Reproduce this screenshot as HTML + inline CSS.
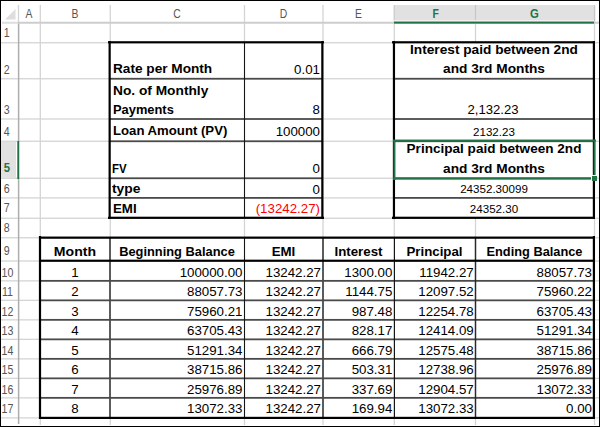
<!DOCTYPE html><html><head><meta charset="utf-8"><title>Loan EMI sheet</title><style>
html,body{margin:0;padding:0;width:600px;height:427px;overflow:hidden;background:#fff;}
div{position:absolute;}
.t{font-family:"Liberation Sans",sans-serif;white-space:nowrap;line-height:20px;height:20px;}
.b{font-weight:bold;}
</style></head><body>
<div style="left:39px;top:23px;width:1px;height:402px;background:#d4d4d4;opacity:0.35"></div>
<div style="left:40px;top:23px;width:1px;height:402px;background:#d4d4d4;opacity:0.95"></div>
<div style="left:109px;top:23px;width:1px;height:402px;background:#d4d4d4;opacity:0.40"></div>
<div style="left:110px;top:23px;width:1px;height:402px;background:#d4d4d4;opacity:0.90"></div>
<div style="left:243px;top:23px;width:1px;height:402px;background:#d4d4d4;opacity:0.15"></div>
<div style="left:244px;top:23px;width:1px;height:402px;background:#d4d4d4"></div>
<div style="left:245px;top:23px;width:1px;height:402px;background:#d4d4d4;opacity:0.15"></div>
<div style="left:322px;top:23px;width:1px;height:402px;background:#d4d4d4;opacity:0.65"></div>
<div style="left:323px;top:23px;width:1px;height:402px;background:#d4d4d4;opacity:0.65"></div>
<div style="left:393px;top:23px;width:1px;height:402px;background:#d4d4d4;opacity:0.35"></div>
<div style="left:394px;top:23px;width:1px;height:402px;background:#d4d4d4;opacity:0.95"></div>
<div style="left:474px;top:23px;width:1px;height:402px;background:#d4d4d4;opacity:0.15"></div>
<div style="left:475px;top:23px;width:1px;height:402px;background:#d4d4d4"></div>
<div style="left:476px;top:23px;width:1px;height:402px;background:#d4d4d4;opacity:0.15"></div>
<div style="left:593px;top:23px;width:1px;height:402px;background:#d4d4d4;opacity:0.15"></div>
<div style="left:594px;top:23px;width:1px;height:402px;background:#d4d4d4"></div>
<div style="left:595px;top:23px;width:1px;height:402px;background:#d4d4d4;opacity:0.15"></div>
<div style="left:1px;top:42px;width:598px;height:1px;background:#d4d4d4;opacity:0.90"></div>
<div style="left:1px;top:43px;width:598px;height:1px;background:#d4d4d4;opacity:0.40"></div>
<div style="left:1px;top:78px;width:598px;height:1px;background:#d4d4d4;opacity:0.90"></div>
<div style="left:1px;top:79px;width:598px;height:1px;background:#d4d4d4;opacity:0.40"></div>
<div style="left:1px;top:118px;width:598px;height:1px;background:#d4d4d4;opacity:0.65"></div>
<div style="left:1px;top:119px;width:598px;height:1px;background:#d4d4d4;opacity:0.65"></div>
<div style="left:1px;top:140px;width:598px;height:1px;background:#d4d4d4;opacity:0.40"></div>
<div style="left:1px;top:141px;width:598px;height:1px;background:#d4d4d4;opacity:0.90"></div>
<div style="left:1px;top:177px;width:598px;height:1px;background:#d4d4d4;opacity:0.40"></div>
<div style="left:1px;top:178px;width:598px;height:1px;background:#d4d4d4;opacity:0.90"></div>
<div style="left:1px;top:197px;width:598px;height:1px;background:#d4d4d4;opacity:0.75"></div>
<div style="left:1px;top:198px;width:598px;height:1px;background:#d4d4d4;opacity:0.55"></div>
<div style="left:1px;top:217px;width:598px;height:1px;background:#d4d4d4;opacity:0.40"></div>
<div style="left:1px;top:218px;width:598px;height:1px;background:#d4d4d4;opacity:0.90"></div>
<div style="left:1px;top:237px;width:598px;height:1px;background:#d4d4d4;opacity:0.90"></div>
<div style="left:1px;top:238px;width:598px;height:1px;background:#d4d4d4;opacity:0.40"></div>
<div style="left:1px;top:260px;width:598px;height:1px;background:#d4d4d4;opacity:0.65"></div>
<div style="left:1px;top:261px;width:598px;height:1px;background:#d4d4d4;opacity:0.65"></div>
<div style="left:1px;top:280px;width:598px;height:1px;background:#d4d4d4;opacity:0.80"></div>
<div style="left:1px;top:281px;width:598px;height:1px;background:#d4d4d4;opacity:0.50"></div>
<div style="left:1px;top:299px;width:598px;height:1px;background:#d4d4d4;opacity:0.30"></div>
<div style="left:1px;top:300px;width:598px;height:1px;background:#d4d4d4"></div>
<div style="left:1px;top:319px;width:598px;height:1px;background:#d4d4d4;opacity:0.80"></div>
<div style="left:1px;top:320px;width:598px;height:1px;background:#d4d4d4;opacity:0.50"></div>
<div style="left:1px;top:338px;width:598px;height:1px;background:#d4d4d4;opacity:0.30"></div>
<div style="left:1px;top:339px;width:598px;height:1px;background:#d4d4d4"></div>
<div style="left:1px;top:358px;width:598px;height:1px;background:#d4d4d4;opacity:0.80"></div>
<div style="left:1px;top:359px;width:598px;height:1px;background:#d4d4d4;opacity:0.50"></div>
<div style="left:1px;top:377px;width:598px;height:1px;background:#d4d4d4;opacity:0.30"></div>
<div style="left:1px;top:378px;width:598px;height:1px;background:#d4d4d4"></div>
<div style="left:1px;top:397px;width:598px;height:1px;background:#d4d4d4;opacity:0.80"></div>
<div style="left:1px;top:398px;width:598px;height:1px;background:#d4d4d4;opacity:0.50"></div>
<div style="left:1px;top:417px;width:598px;height:1px;background:#d4d4d4;opacity:0.75"></div>
<div style="left:1px;top:418px;width:598px;height:1px;background:#d4d4d4;opacity:0.55"></div>
<div style="left:17px;top:23px;width:1px;height:401px;background:#adadad;opacity:0.15"></div>
<div style="left:18px;top:23px;width:1px;height:401px;background:#adadad"></div>
<div style="left:19px;top:23px;width:1px;height:401px;background:#adadad;opacity:0.35"></div>
<div style="left:39px;top:5px;width:1px;height:17px;background:#d4d4d4;opacity:0.35"></div>
<div style="left:40px;top:5px;width:1px;height:17px;background:#d4d4d4;opacity:0.95"></div>
<div style="left:109px;top:5px;width:1px;height:17px;background:#d4d4d4;opacity:0.40"></div>
<div style="left:110px;top:5px;width:1px;height:17px;background:#d4d4d4;opacity:0.90"></div>
<div style="left:243px;top:5px;width:1px;height:17px;background:#d4d4d4;opacity:0.15"></div>
<div style="left:244px;top:5px;width:1px;height:17px;background:#d4d4d4"></div>
<div style="left:245px;top:5px;width:1px;height:17px;background:#d4d4d4;opacity:0.15"></div>
<div style="left:322px;top:5px;width:1px;height:17px;background:#d4d4d4;opacity:0.65"></div>
<div style="left:323px;top:5px;width:1px;height:17px;background:#d4d4d4;opacity:0.65"></div>
<div style="left:393px;top:5px;width:1px;height:17px;background:#d4d4d4;opacity:0.35"></div>
<div style="left:394px;top:5px;width:1px;height:17px;background:#d4d4d4;opacity:0.95"></div>
<div style="left:474px;top:5px;width:1px;height:17px;background:#d4d4d4;opacity:0.15"></div>
<div style="left:475px;top:5px;width:1px;height:17px;background:#d4d4d4"></div>
<div style="left:476px;top:5px;width:1px;height:17px;background:#d4d4d4;opacity:0.15"></div>
<div style="left:593px;top:5px;width:1px;height:17px;background:#d4d4d4;opacity:0.15"></div>
<div style="left:594px;top:5px;width:1px;height:17px;background:#d4d4d4"></div>
<div style="left:595px;top:5px;width:1px;height:17px;background:#d4d4d4;opacity:0.15"></div>
<div style="left:17px;top:5px;width:1px;height:17px;background:#d4d4d4;opacity:0.15"></div>
<div style="left:18px;top:5px;width:1px;height:17px;background:#d4d4d4"></div>
<div style="left:19px;top:5px;width:1px;height:17px;background:#d4d4d4;opacity:0.15"></div>
<div style="left:394px;top:5px;width:200px;height:16px;background:#e1e1e1"></div>
<div style="left:393px;top:5px;width:1px;height:16px;background:#cfcfcf;opacity:0.20"></div>
<div style="left:394px;top:5px;width:1px;height:16px;background:#cfcfcf"></div>
<div style="left:474px;top:5px;width:1px;height:16px;background:#c6c6c6;opacity:0.10"></div>
<div style="left:475px;top:5px;width:1px;height:16px;background:#c6c6c6"></div>
<div style="left:476px;top:5px;width:1px;height:16px;background:#c6c6c6;opacity:0.10"></div>
<div style="left:593px;top:5px;width:1px;height:16px;background:#c6c6c6;opacity:0.10"></div>
<div style="left:594px;top:5px;width:1px;height:16px;background:#c6c6c6"></div>
<div style="left:595px;top:5px;width:1px;height:16px;background:#c6c6c6;opacity:0.10"></div>
<div style="left:394px;top:20px;width:200px;height:1px;background:#f4eef2"></div>
<div style="left:18px;top:21px;width:581px;height:1px;background:#cdcdcd;opacity:0.25"></div>
<div style="left:18px;top:22px;width:581px;height:1px;background:#cdcdcd"></div>
<div style="left:18px;top:23px;width:581px;height:1px;background:#cdcdcd;opacity:0.75"></div>
<div style="left:2px;top:21px;width:16px;height:1px;background:#dedede;opacity:0.25"></div>
<div style="left:2px;top:22px;width:16px;height:1px;background:#dedede"></div>
<div style="left:2px;top:23px;width:16px;height:1px;background:#dedede;opacity:0.75"></div>
<div style="left:394px;top:21px;width:200px;height:3px;background:#fff"></div>
<div style="left:394px;top:21px;width:200px;height:1px;background:#217346;opacity:0.50"></div>
<div style="left:394px;top:22px;width:200px;height:1px;background:#217346"></div>
<div style="left:394px;top:23px;width:200px;height:1px;background:#217346;opacity:0.70"></div>
<div style="left:1px;top:142px;width:15px;height:36px;background:#e1e1e1"></div>
<div style="left:17px;top:141px;width:1px;height:38px;background:#217346;opacity:0.70"></div>
<div style="left:18px;top:141px;width:1px;height:38px;background:#217346"></div>
<div style="left:19px;top:141px;width:1px;height:38px;background:#217346;opacity:0.10"></div>
<div style="left:110px;top:43px;width:212px;height:174px;background:#fff"></div>
<div style="left:395px;top:43px;width:198px;height:174px;background:#fff"></div>
<div style="left:41px;top:239px;width:552px;height:178px;background:#fff"></div>
<div style="left:110px;top:77px;width:212px;height:1px;background:#4a4a4a;opacity:0.15"></div>
<div style="left:110px;top:78px;width:212px;height:1px;background:#4a4a4a"></div>
<div style="left:110px;top:79px;width:212px;height:1px;background:#4a4a4a;opacity:0.65"></div>
<div style="left:110px;top:118px;width:212px;height:1px;background:#4a4a4a;opacity:0.90"></div>
<div style="left:110px;top:119px;width:212px;height:1px;background:#4a4a4a;opacity:0.90"></div>
<div style="left:110px;top:140px;width:212px;height:1px;background:#4a4a4a;opacity:0.65"></div>
<div style="left:110px;top:141px;width:212px;height:1px;background:#4a4a4a"></div>
<div style="left:110px;top:142px;width:212px;height:1px;background:#4a4a4a;opacity:0.15"></div>
<div style="left:110px;top:177px;width:212px;height:1px;background:#4a4a4a;opacity:0.65"></div>
<div style="left:110px;top:178px;width:212px;height:1px;background:#4a4a4a"></div>
<div style="left:110px;top:179px;width:212px;height:1px;background:#4a4a4a;opacity:0.15"></div>
<div style="left:110px;top:197px;width:212px;height:1px;background:#4a4a4a"></div>
<div style="left:110px;top:198px;width:212px;height:1px;background:#4a4a4a;opacity:0.80"></div>
<div style="left:243px;top:43px;width:1px;height:174px;background:#151515;opacity:0.05"></div>
<div style="left:244px;top:43px;width:1px;height:174px;background:#151515"></div>
<div style="left:245px;top:43px;width:1px;height:174px;background:#151515;opacity:0.05"></div>
<div style="left:394px;top:77px;width:199px;height:1px;background:#4a4a4a;opacity:0.15"></div>
<div style="left:394px;top:78px;width:199px;height:1px;background:#4a4a4a"></div>
<div style="left:394px;top:79px;width:199px;height:1px;background:#4a4a4a;opacity:0.65"></div>
<div style="left:394px;top:118px;width:199px;height:1px;background:#4a4a4a;opacity:0.90"></div>
<div style="left:394px;top:119px;width:199px;height:1px;background:#4a4a4a;opacity:0.90"></div>
<div style="left:394px;top:140px;width:199px;height:1px;background:#4a4a4a;opacity:0.65"></div>
<div style="left:394px;top:141px;width:199px;height:1px;background:#4a4a4a"></div>
<div style="left:394px;top:142px;width:199px;height:1px;background:#4a4a4a;opacity:0.15"></div>
<div style="left:394px;top:177px;width:199px;height:1px;background:#4a4a4a;opacity:0.65"></div>
<div style="left:394px;top:178px;width:199px;height:1px;background:#4a4a4a"></div>
<div style="left:394px;top:179px;width:199px;height:1px;background:#4a4a4a;opacity:0.15"></div>
<div style="left:394px;top:197px;width:199px;height:1px;background:#4a4a4a"></div>
<div style="left:394px;top:198px;width:199px;height:1px;background:#4a4a4a;opacity:0.80"></div>
<div style="left:40px;top:279px;width:553px;height:1px;background:#4a4a4a;opacity:0.05"></div>
<div style="left:40px;top:280px;width:553px;height:1px;background:#4a4a4a"></div>
<div style="left:40px;top:281px;width:553px;height:1px;background:#4a4a4a;opacity:0.75"></div>
<div style="left:40px;top:299px;width:553px;height:1px;background:#4a4a4a;opacity:0.55"></div>
<div style="left:40px;top:300px;width:553px;height:1px;background:#4a4a4a"></div>
<div style="left:40px;top:301px;width:553px;height:1px;background:#4a4a4a;opacity:0.25"></div>
<div style="left:40px;top:318px;width:553px;height:1px;background:#4a4a4a;opacity:0.05"></div>
<div style="left:40px;top:319px;width:553px;height:1px;background:#4a4a4a"></div>
<div style="left:40px;top:320px;width:553px;height:1px;background:#4a4a4a;opacity:0.75"></div>
<div style="left:40px;top:338px;width:553px;height:1px;background:#4a4a4a;opacity:0.55"></div>
<div style="left:40px;top:339px;width:553px;height:1px;background:#4a4a4a"></div>
<div style="left:40px;top:340px;width:553px;height:1px;background:#4a4a4a;opacity:0.25"></div>
<div style="left:40px;top:357px;width:553px;height:1px;background:#4a4a4a;opacity:0.05"></div>
<div style="left:40px;top:358px;width:553px;height:1px;background:#4a4a4a"></div>
<div style="left:40px;top:359px;width:553px;height:1px;background:#4a4a4a;opacity:0.75"></div>
<div style="left:40px;top:377px;width:553px;height:1px;background:#4a4a4a;opacity:0.55"></div>
<div style="left:40px;top:378px;width:553px;height:1px;background:#4a4a4a"></div>
<div style="left:40px;top:379px;width:553px;height:1px;background:#4a4a4a;opacity:0.25"></div>
<div style="left:40px;top:396px;width:553px;height:1px;background:#4a4a4a;opacity:0.05"></div>
<div style="left:40px;top:397px;width:553px;height:1px;background:#4a4a4a"></div>
<div style="left:40px;top:398px;width:553px;height:1px;background:#4a4a4a;opacity:0.75"></div>
<div style="left:109px;top:238px;width:1px;height:180px;background:#4a4a4a;opacity:0.90"></div>
<div style="left:110px;top:238px;width:1px;height:180px;background:#4a4a4a;opacity:0.90"></div>
<div style="left:243px;top:238px;width:1px;height:180px;background:#151515;opacity:0.05"></div>
<div style="left:244px;top:238px;width:1px;height:180px;background:#151515"></div>
<div style="left:245px;top:238px;width:1px;height:180px;background:#151515;opacity:0.05"></div>
<div style="left:322px;top:238px;width:1px;height:180px;background:#4a4a4a;opacity:0.90"></div>
<div style="left:323px;top:238px;width:1px;height:180px;background:#4a4a4a;opacity:0.90"></div>
<div style="left:393px;top:238px;width:1px;height:180px;background:#151515;opacity:0.20"></div>
<div style="left:394px;top:238px;width:1px;height:180px;background:#151515"></div>
<div style="left:474px;top:238px;width:1px;height:180px;background:#2a2a2a;opacity:0.25"></div>
<div style="left:475px;top:238px;width:1px;height:180px;background:#2a2a2a"></div>
<div style="left:476px;top:238px;width:1px;height:180px;background:#2a2a2a;opacity:0.25"></div>
<div style="left:108px;top:41px;width:216px;height:1px;background:#000;opacity:0.80"></div>
<div style="left:108px;top:42px;width:216px;height:1px;background:#000"></div>
<div style="left:108px;top:43px;width:216px;height:1px;background:#000;opacity:0.40"></div>
<div style="left:108px;top:216px;width:216px;height:1px;background:#000;opacity:0.30"></div>
<div style="left:108px;top:217px;width:216px;height:1px;background:#000"></div>
<div style="left:108px;top:218px;width:216px;height:1px;background:#000;opacity:0.90"></div>
<div style="left:108px;top:41px;width:1px;height:178px;background:#000;opacity:0.45"></div>
<div style="left:109px;top:41px;width:1px;height:178px;background:#000"></div>
<div style="left:110px;top:41px;width:1px;height:178px;background:#000;opacity:0.75"></div>
<div style="left:321px;top:41px;width:1px;height:178px;background:#000;opacity:0.75"></div>
<div style="left:322px;top:41px;width:1px;height:178px;background:#000"></div>
<div style="left:323px;top:41px;width:1px;height:178px;background:#000;opacity:0.45"></div>
<div style="left:392px;top:41px;width:203px;height:1px;background:#000;opacity:0.80"></div>
<div style="left:392px;top:42px;width:203px;height:1px;background:#000"></div>
<div style="left:392px;top:43px;width:203px;height:1px;background:#000;opacity:0.40"></div>
<div style="left:392px;top:216px;width:203px;height:1px;background:#000;opacity:0.30"></div>
<div style="left:392px;top:217px;width:203px;height:1px;background:#000"></div>
<div style="left:392px;top:218px;width:203px;height:1px;background:#000;opacity:0.90"></div>
<div style="left:392px;top:41px;width:1px;height:178px;background:#000;opacity:0.15"></div>
<div style="left:393px;top:41px;width:1px;height:178px;background:#000"></div>
<div style="left:394px;top:41px;width:1px;height:178px;background:#000"></div>
<div style="left:395px;top:41px;width:1px;height:178px;background:#000;opacity:0.05"></div>
<div style="left:592px;top:41px;width:1px;height:178px;background:#000;opacity:0.20"></div>
<div style="left:593px;top:41px;width:1px;height:178px;background:#000"></div>
<div style="left:594px;top:41px;width:1px;height:178px;background:#000"></div>
<div style="left:39px;top:236px;width:556px;height:1px;background:#000;opacity:0.45"></div>
<div style="left:39px;top:237px;width:556px;height:1px;background:#000"></div>
<div style="left:39px;top:238px;width:556px;height:1px;background:#000;opacity:0.75"></div>
<div style="left:39px;top:416px;width:556px;height:1px;background:#000;opacity:0.20"></div>
<div style="left:39px;top:417px;width:556px;height:1px;background:#000"></div>
<div style="left:39px;top:418px;width:556px;height:1px;background:#000"></div>
<div style="left:38px;top:236px;width:1px;height:183px;background:#000;opacity:0.10"></div>
<div style="left:39px;top:236px;width:1px;height:183px;background:#000"></div>
<div style="left:40px;top:236px;width:1px;height:183px;background:#000"></div>
<div style="left:41px;top:236px;width:1px;height:183px;background:#000;opacity:0.10"></div>
<div style="left:592px;top:236px;width:1px;height:183px;background:#000;opacity:0.20"></div>
<div style="left:593px;top:236px;width:1px;height:183px;background:#000"></div>
<div style="left:594px;top:236px;width:1px;height:183px;background:#000"></div>
<div style="left:40px;top:259px;width:554px;height:1px;background:#000;opacity:0.35"></div>
<div style="left:40px;top:260px;width:554px;height:1px;background:#000"></div>
<div style="left:40px;top:261px;width:554px;height:1px;background:#000;opacity:0.85"></div>
<div style="left:393px;top:139px;width:203px;height:1px;background:#217346;opacity:0.45"></div>
<div style="left:393px;top:140px;width:203px;height:1px;background:#217346"></div>
<div style="left:393px;top:141px;width:203px;height:1px;background:#217346;opacity:0.55"></div>
<div style="left:393px;top:177px;width:203px;height:1px;background:#217346;opacity:0.40"></div>
<div style="left:393px;top:178px;width:203px;height:1px;background:#217346"></div>
<div style="left:393px;top:179px;width:203px;height:1px;background:#217346;opacity:0.60"></div>
<div style="left:393px;top:140px;width:1px;height:40px;background:#217346;opacity:0.60"></div>
<div style="left:394px;top:140px;width:1px;height:40px;background:#217346"></div>
<div style="left:395px;top:140px;width:1px;height:40px;background:#217346;opacity:0.40"></div>
<div style="left:593px;top:140px;width:1px;height:40px;background:#217346;opacity:0.40"></div>
<div style="left:594px;top:140px;width:1px;height:40px;background:#217346"></div>
<div style="left:595px;top:140px;width:1px;height:40px;background:#217346;opacity:0.60"></div>
<div style="left:592px;top:176px;width:5px;height:5px;background:#217346"></div>
<div style="left:591px;top:175px;width:7px;height:1px;background:#fff"></div>
<div style="left:591px;top:175px;width:1px;height:7px;background:#fff"></div>
<div style="left:0px;top:0px;width:600px;height:1px;background:#000"></div>
<div style="left:0px;top:426px;width:600px;height:1px;background:#000"></div>
<div style="left:0px;top:0px;width:1px;height:427px;background:#000"></div>
<div style="left:599px;top:0px;width:1px;height:427px;background:#000"></div>
<svg style="position:absolute;left:0;top:0" width="20" height="22"><polygon points="15.5,9 15.5,19.5 5,19.5" fill="#dedede"/></svg>
<div class="t" style="top:3.99px;font-size:13.3px;color:#555;left:18px;width:22px;text-align:center;transform:scaleX(0.7800);transform-origin:center;">A</div>
<div class="t" style="top:3.99px;font-size:13.3px;color:#555;left:40px;width:70px;text-align:center;transform:scaleX(0.7800);transform-origin:center;">B</div>
<div class="t" style="top:3.99px;font-size:13.3px;color:#555;left:110px;width:134px;text-align:center;transform:scaleX(0.7800);transform-origin:center;">C</div>
<div class="t" style="top:3.99px;font-size:13.3px;color:#555;left:244px;width:79px;text-align:center;transform:scaleX(0.7800);transform-origin:center;">D</div>
<div class="t" style="top:3.99px;font-size:13.3px;color:#555;left:323px;width:71px;text-align:center;transform:scaleX(0.7800);transform-origin:center;">E</div>
<div class="t b" style="top:3.99px;font-size:13.3px;color:#217346;left:395.5px;width:79.5px;text-align:center;transform:scaleX(0.7800);transform-origin:center;">F</div>
<div class="t b" style="top:3.99px;font-size:13.3px;color:#217346;left:475px;width:119px;text-align:center;transform:scaleX(0.8500);transform-origin:center;">G</div>
<div class="t" style="top:23.39px;font-size:13.3px;color:#555;left:-2.6px;width:19.6px;text-align:center;transform:scaleX(0.8000);transform-origin:center;">1</div>
<div class="t" style="top:59.89px;font-size:13.3px;color:#555;left:-2.6px;width:19.6px;text-align:center;transform:scaleX(0.8000);transform-origin:center;">2</div>
<div class="t" style="top:100.39px;font-size:13.3px;color:#555;left:-2.6px;width:19.6px;text-align:center;transform:scaleX(0.8000);transform-origin:center;">3</div>
<div class="t" style="top:121.89px;font-size:13.3px;color:#555;left:-2.6px;width:19.6px;text-align:center;transform:scaleX(0.8000);transform-origin:center;">4</div>
<div class="t b" style="top:158.19px;font-size:13.3px;color:#217346;left:-3px;width:20px;text-align:center;transform:scaleX(0.8500);transform-origin:center;">5</div>
<div class="t" style="top:179.39px;font-size:13.3px;color:#555;left:-2.6px;width:19.6px;text-align:center;transform:scaleX(0.8000);transform-origin:center;">6</div>
<div class="t" style="top:198.39px;font-size:13.3px;color:#555;left:-2.6px;width:19.6px;text-align:center;transform:scaleX(0.8000);transform-origin:center;">7</div>
<div class="t" style="top:218.39px;font-size:13.3px;color:#555;left:-2.6px;width:19.6px;text-align:center;transform:scaleX(0.8000);transform-origin:center;">8</div>
<div class="t" style="top:241.39px;font-size:13.3px;color:#555;left:-2.6px;width:19.6px;text-align:center;transform:scaleX(0.8000);transform-origin:center;">9</div>
<div class="t" style="top:262.79px;font-size:13.3px;color:#555;left:-2.0px;width:19.0px;text-align:center;transform:scaleX(0.8000);transform-origin:center;">10</div>
<div class="t" style="top:282.29px;font-size:13.3px;color:#555;left:-2.0px;width:19.0px;text-align:center;transform:scaleX(0.8000);transform-origin:center;">11</div>
<div class="t" style="top:301.79px;font-size:13.3px;color:#555;left:-2.0px;width:19.0px;text-align:center;transform:scaleX(0.8000);transform-origin:center;">12</div>
<div class="t" style="top:321.29px;font-size:13.3px;color:#555;left:-2.0px;width:19.0px;text-align:center;transform:scaleX(0.8000);transform-origin:center;">13</div>
<div class="t" style="top:340.79px;font-size:13.3px;color:#555;left:-2.0px;width:19.0px;text-align:center;transform:scaleX(0.8000);transform-origin:center;">14</div>
<div class="t" style="top:360.29px;font-size:13.3px;color:#555;left:-2.0px;width:19.0px;text-align:center;transform:scaleX(0.8000);transform-origin:center;">15</div>
<div class="t" style="top:379.79px;font-size:13.3px;color:#555;left:-2.0px;width:19.0px;text-align:center;transform:scaleX(0.8000);transform-origin:center;">16</div>
<div class="t" style="top:399.29px;font-size:13.3px;color:#555;left:-2.0px;width:19.0px;text-align:center;transform:scaleX(0.8000);transform-origin:center;">17</div>
<div class="t b" style="top:58.99px;font-size:13.3px;color:#000;left:113px;transform:scaleX(1.0250);transform-origin:left;">Rate per Month</div>
<div class="t" style="top:59.69px;font-size:13.3px;color:#000;right:280.00px;text-align:right;">0.01</div>
<div class="t b" style="top:80.99px;font-size:13.3px;color:#000;left:113px;transform:scaleX(1.0320);transform-origin:left;">No. of Monthly</div>
<div class="t b" style="top:100.39px;font-size:13.3px;color:#000;left:113px;transform:scaleX(0.9680);transform-origin:left;">Payments</div>
<div class="t" style="top:100.19px;font-size:13.3px;color:#000;right:280.00px;text-align:right;">8</div>
<div class="t b" style="top:120.59px;font-size:13.3px;color:#000;left:113px;transform:scaleX(0.9900);transform-origin:left;">Loan Amount (PV)</div>
<div class="t" style="top:121.79px;font-size:13.3px;color:#000;right:280.00px;text-align:right;">100000</div>
<div class="t b" style="top:159.19px;font-size:13.3px;color:#000;left:112.4px;transform:scaleX(0.8600);transform-origin:left;">FV</div>
<div class="t" style="top:158.99px;font-size:13.3px;color:#000;right:280.00px;text-align:right;">0</div>
<div class="t b" style="top:178.99px;font-size:13.3px;color:#000;left:112.4px;transform:scaleX(1.0400);transform-origin:left;">type</div>
<div class="t" style="top:179.59px;font-size:13.3px;color:#000;right:280.00px;text-align:right;">0</div>
<div class="t b" style="top:198.59px;font-size:13.3px;color:#000;left:113px;">EMI</div>
<div class="t" style="top:198.59px;font-size:13.3px;color:#ff0000;right:280.00px;text-align:right;">(13242.27)</div>
<div class="t b" style="top:40.09px;font-size:13.3px;color:#000;left:394px;width:200px;text-align:center;transform:scaleX(1.0280);transform-origin:center;">Interest paid between 2nd</div>
<div class="t b" style="top:59.49px;font-size:13.3px;color:#000;left:394px;width:200px;text-align:center;transform:scaleX(1.0300);transform-origin:center;">and 3rd Months</div>
<div class="t" style="top:100.29px;font-size:13.3px;color:#000;left:392.6px;width:200.0px;text-align:center;transform:scaleX(0.9850);transform-origin:center;">2,132.23</div>
<div class="t" style="top:121.78px;font-size:11.6px;color:#000;left:394px;width:200px;text-align:center;">2132.23</div>
<div class="t b" style="top:139.39px;font-size:13.3px;color:#000;left:394px;width:200px;text-align:center;transform:scaleX(1.0200);transform-origin:center;">Principal paid between 2nd</div>
<div class="t b" style="top:158.89px;font-size:13.3px;color:#000;left:394px;width:200px;text-align:center;transform:scaleX(1.0300);transform-origin:center;">and 3rd Months</div>
<div class="t" style="top:179.38px;font-size:11.6px;color:#000;left:394px;width:200px;text-align:center;">24352.30099</div>
<div class="t" style="top:198.98px;font-size:11.6px;color:#000;left:394px;width:200px;text-align:center;">24352.30</div>
<div class="t b" style="top:241.69px;font-size:13.3px;color:#000;left:40px;width:70px;text-align:center;transform:scaleX(1.0600);transform-origin:center;">Month</div>
<div class="t b" style="top:241.69px;font-size:13.3px;color:#000;left:110px;width:134px;text-align:center;transform:scaleX(0.9660);transform-origin:center;">Beginning Balance</div>
<div class="t b" style="top:241.69px;font-size:13.3px;color:#000;left:244px;width:79px;text-align:center;">EMI</div>
<div class="t b" style="top:241.69px;font-size:13.3px;color:#000;left:323px;width:71px;text-align:center;">Interest</div>
<div class="t b" style="top:241.69px;font-size:13.3px;color:#000;left:394px;width:81px;text-align:center;">Principal</div>
<div class="t b" style="top:241.69px;font-size:13.3px;color:#000;left:475px;width:119px;text-align:center;transform:scaleX(0.9620);transform-origin:center;">Ending Balance</div>
<div class="t" style="top:262.89px;font-size:13.3px;color:#000;left:40px;width:70px;text-align:center;">1</div>
<div class="t" style="top:262.89px;font-size:13.3px;color:#000;right:357.50px;text-align:right;">100000.00</div>
<div class="t" style="top:262.89px;font-size:13.3px;color:#000;right:279.00px;text-align:right;">13242.27</div>
<div class="t" style="top:262.89px;font-size:13.3px;color:#000;right:207.70px;text-align:right;">1300.00</div>
<div class="t" style="top:262.89px;font-size:13.3px;color:#000;right:126.30px;text-align:right;">11942.27</div>
<div class="t" style="top:262.89px;font-size:13.3px;color:#000;right:8.00px;text-align:right;">88057.73</div>
<div class="t" style="top:282.39px;font-size:13.3px;color:#000;left:40px;width:70px;text-align:center;">2</div>
<div class="t" style="top:282.39px;font-size:13.3px;color:#000;right:357.50px;text-align:right;">88057.73</div>
<div class="t" style="top:282.39px;font-size:13.3px;color:#000;right:279.00px;text-align:right;">13242.27</div>
<div class="t" style="top:282.39px;font-size:13.3px;color:#000;right:207.70px;text-align:right;">1144.75</div>
<div class="t" style="top:282.39px;font-size:13.3px;color:#000;right:126.30px;text-align:right;">12097.52</div>
<div class="t" style="top:282.39px;font-size:13.3px;color:#000;right:8.00px;text-align:right;">75960.22</div>
<div class="t" style="top:301.89px;font-size:13.3px;color:#000;left:40px;width:70px;text-align:center;">3</div>
<div class="t" style="top:301.89px;font-size:13.3px;color:#000;right:357.50px;text-align:right;">75960.21</div>
<div class="t" style="top:301.89px;font-size:13.3px;color:#000;right:279.00px;text-align:right;">13242.27</div>
<div class="t" style="top:301.89px;font-size:13.3px;color:#000;right:207.70px;text-align:right;">987.48</div>
<div class="t" style="top:301.89px;font-size:13.3px;color:#000;right:126.30px;text-align:right;">12254.78</div>
<div class="t" style="top:301.89px;font-size:13.3px;color:#000;right:8.00px;text-align:right;">63705.43</div>
<div class="t" style="top:321.39px;font-size:13.3px;color:#000;left:40px;width:70px;text-align:center;">4</div>
<div class="t" style="top:321.39px;font-size:13.3px;color:#000;right:357.50px;text-align:right;">63705.43</div>
<div class="t" style="top:321.39px;font-size:13.3px;color:#000;right:279.00px;text-align:right;">13242.27</div>
<div class="t" style="top:321.39px;font-size:13.3px;color:#000;right:207.70px;text-align:right;">828.17</div>
<div class="t" style="top:321.39px;font-size:13.3px;color:#000;right:126.30px;text-align:right;">12414.09</div>
<div class="t" style="top:321.39px;font-size:13.3px;color:#000;right:8.00px;text-align:right;">51291.34</div>
<div class="t" style="top:340.89px;font-size:13.3px;color:#000;left:40px;width:70px;text-align:center;">5</div>
<div class="t" style="top:340.89px;font-size:13.3px;color:#000;right:357.50px;text-align:right;">51291.34</div>
<div class="t" style="top:340.89px;font-size:13.3px;color:#000;right:279.00px;text-align:right;">13242.27</div>
<div class="t" style="top:340.89px;font-size:13.3px;color:#000;right:207.70px;text-align:right;">666.79</div>
<div class="t" style="top:340.89px;font-size:13.3px;color:#000;right:126.30px;text-align:right;">12575.48</div>
<div class="t" style="top:340.89px;font-size:13.3px;color:#000;right:8.00px;text-align:right;">38715.86</div>
<div class="t" style="top:360.39px;font-size:13.3px;color:#000;left:40px;width:70px;text-align:center;">6</div>
<div class="t" style="top:360.39px;font-size:13.3px;color:#000;right:357.50px;text-align:right;">38715.86</div>
<div class="t" style="top:360.39px;font-size:13.3px;color:#000;right:279.00px;text-align:right;">13242.27</div>
<div class="t" style="top:360.39px;font-size:13.3px;color:#000;right:207.70px;text-align:right;">503.31</div>
<div class="t" style="top:360.39px;font-size:13.3px;color:#000;right:126.30px;text-align:right;">12738.96</div>
<div class="t" style="top:360.39px;font-size:13.3px;color:#000;right:8.00px;text-align:right;">25976.89</div>
<div class="t" style="top:379.89px;font-size:13.3px;color:#000;left:40px;width:70px;text-align:center;">7</div>
<div class="t" style="top:379.89px;font-size:13.3px;color:#000;right:357.50px;text-align:right;">25976.89</div>
<div class="t" style="top:379.89px;font-size:13.3px;color:#000;right:279.00px;text-align:right;">13242.27</div>
<div class="t" style="top:379.89px;font-size:13.3px;color:#000;right:207.70px;text-align:right;">337.69</div>
<div class="t" style="top:379.89px;font-size:13.3px;color:#000;right:126.30px;text-align:right;">12904.57</div>
<div class="t" style="top:379.89px;font-size:13.3px;color:#000;right:8.00px;text-align:right;">13072.33</div>
<div class="t" style="top:399.39px;font-size:13.3px;color:#000;left:40px;width:70px;text-align:center;">8</div>
<div class="t" style="top:399.39px;font-size:13.3px;color:#000;right:357.50px;text-align:right;">13072.33</div>
<div class="t" style="top:399.39px;font-size:13.3px;color:#000;right:279.00px;text-align:right;">13242.27</div>
<div class="t" style="top:399.39px;font-size:13.3px;color:#000;right:207.70px;text-align:right;">169.94</div>
<div class="t" style="top:399.39px;font-size:13.3px;color:#000;right:126.30px;text-align:right;">13072.33</div>
<div class="t" style="top:399.39px;font-size:13.3px;color:#000;right:8.00px;text-align:right;">0.00</div>
</body></html>
